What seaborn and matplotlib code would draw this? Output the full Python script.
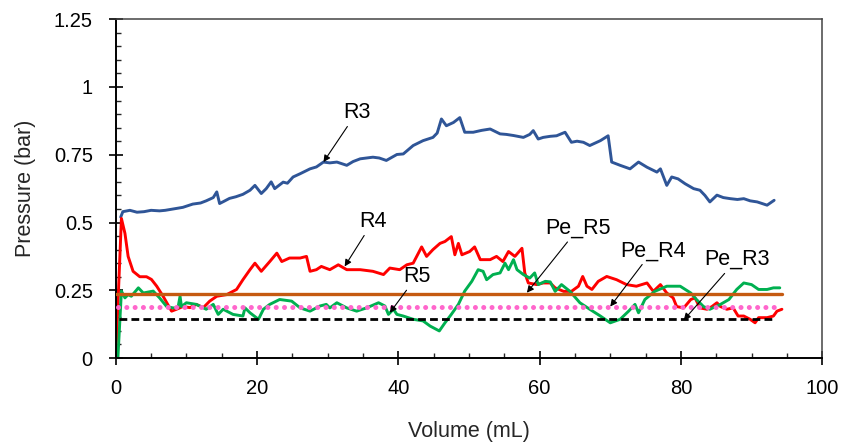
import matplotlib
matplotlib.use("Agg")
import matplotlib.pyplot as plt
import numpy as np
import pandas as pd
import seaborn as sns

# ── data ─────────────────────────────────────────────────────
r3_x = [0.7, 1.0, 2.0, 3.0, 4.0, 5.0, 6.2, 7.0, 8.6, 9.5, 10.9, 12.0, 12.8, 13.8,
        14.3, 14.7, 15.3, 16.1, 17.0, 18.0, 19.0, 19.7, 20.6, 21.3, 22.0, 22.5,
        23.7, 24.3, 25.1, 26.1, 27.5, 28.4, 29.4, 30.3, 31.3, 32.7, 33.6, 34.6,
        35.5, 36.4, 37.3, 38.3, 39.8, 40.7, 42.1, 43.5, 44.9, 45.5, 46.1, 46.8,
        47.8, 48.7, 49.4, 50.6, 51.8, 53.0, 54.4, 55.3, 56.3, 57.7, 58.6, 59.1,
        59.8, 60.5, 61.5, 62.4, 63.6, 64.5, 65.3, 66.2, 67.1, 68.6, 69.7, 70.2,
        71.4, 72.8, 74.0, 75.2, 76.6, 77.1, 78.0, 78.7, 79.6, 80.6, 81.8, 82.7,
        83.4, 84.1, 85.1, 86.0, 87.0, 88.0, 88.9, 89.8, 90.8, 91.5, 92.2, 93.2]
r3_y = [0.52, 0.54, 0.545, 0.538, 0.54, 0.545, 0.543, 0.545, 0.552, 0.556, 0.568,
        0.572, 0.58, 0.592, 0.613, 0.57, 0.578, 0.589, 0.595, 0.604, 0.619, 0.637,
        0.607, 0.625, 0.65, 0.625, 0.649, 0.645, 0.668, 0.68, 0.698, 0.705, 0.723,
        0.72, 0.723, 0.711, 0.725, 0.735, 0.738, 0.741, 0.738, 0.729, 0.751, 0.753,
        0.784, 0.802, 0.814, 0.83, 0.882, 0.857, 0.869, 0.887, 0.833, 0.833, 0.84,
        0.845, 0.827, 0.825, 0.821, 0.814, 0.825, 0.839, 0.808, 0.814, 0.818, 0.82,
        0.833, 0.796, 0.8, 0.796, 0.784, 0.802, 0.82, 0.723, 0.711, 0.698, 0.723,
        0.704, 0.686, 0.698, 0.637, 0.668, 0.661, 0.643, 0.625, 0.619, 0.6, 0.576,
        0.601, 0.592, 0.588, 0.585, 0.588, 0.58, 0.576, 0.57, 0.564, 0.582]

r4_x = [0.0, 0.8, 1.3, 1.75, 2.45, 3.4, 4.35, 5.05, 5.8, 6.7, 7.9, 8.6, 9.5, 10.5,
        11.4, 12.4, 13.3, 14.3, 15.7, 17.1, 18.0, 19.0, 19.7, 20.6, 21.8, 22.8,
        23.5, 24.6, 26.1, 27.0, 27.5, 28.4, 29.1, 30.3, 31.5, 32.7, 34.6, 36.4,
        37.9, 38.8, 40.2, 41.2, 42.1, 42.6, 43.3, 44.0, 44.9, 45.9, 46.6, 47.5,
        48.0, 48.5, 49.0, 50.1, 50.8, 51.6, 53.0, 53.9, 54.8, 55.6, 56.5, 57.5,
        57.9, 58.4, 59.6, 60.5, 61.5, 62.2, 63.4, 64.5, 65.5, 66.1, 66.7, 67.4,
        68.3, 69.5, 70.9, 72.3, 73.7, 75.2, 76.1, 77.1, 78.0, 78.9, 79.4, 80.4,
        81.4, 82.0, 82.7, 83.7, 84.4, 85.1, 85.6, 86.5, 87.4, 88.1, 88.9, 89.8,
        90.5, 91.0, 92.2, 93.1, 93.6, 94.3]
r4_y = [0.0, 0.515, 0.46, 0.375, 0.32, 0.30, 0.30, 0.29, 0.265, 0.228, 0.173, 0.18,
        0.19, 0.186, 0.198, 0.186, 0.21, 0.228, 0.234, 0.253, 0.289, 0.326, 0.35,
        0.32, 0.356, 0.387, 0.356, 0.369, 0.369, 0.375, 0.32, 0.326, 0.338, 0.326,
        0.344, 0.326, 0.326, 0.32, 0.308, 0.332, 0.326, 0.344, 0.35, 0.375, 0.41,
        0.375, 0.40, 0.423, 0.43, 0.448, 0.381, 0.423, 0.381, 0.393, 0.41, 0.363,
        0.363, 0.375, 0.356, 0.393, 0.375, 0.405, 0.314, 0.277, 0.271, 0.277, 0.277,
        0.259, 0.246, 0.246, 0.265, 0.301, 0.265, 0.253, 0.283, 0.301, 0.289, 0.271,
        0.265, 0.277, 0.246, 0.271, 0.24, 0.222, 0.19, 0.185, 0.216, 0.222, 0.185,
        0.18, 0.19, 0.204, 0.19, 0.18, 0.185, 0.155, 0.155, 0.143, 0.13, 0.149,
        0.149, 0.155, 0.173, 0.18]

r5_x = [0.3, 0.8, 1.3, 1.75, 2.2, 3.2, 3.9, 5.3, 6.2, 7.2, 8.1, 8.8, 9.1, 9.3, 10.0,
        11.4, 12.8, 13.8, 14.5, 15.2, 16.6, 18.0, 18.3, 19.0, 20.2, 20.9, 21.8,
        23.2, 24.9, 26.1, 27.5, 28.9, 29.8, 30.3, 31.3, 32.7, 34.1, 35.5, 37.2,
        38.1, 38.6, 39.3, 39.8, 40.7, 42.1, 43.5, 44.5, 45.8, 46.6, 47.5, 48.5,
        49.4, 50.4, 51.3, 52.0, 52.5, 53.4, 54.4, 55.1, 55.6, 56.3, 56.8, 57.7,
        58.6, 59.3, 59.8, 60.8, 61.5, 62.2, 63.1, 64.3, 65.7, 67.1, 68.6, 70.0,
        71.4, 72.6, 73.5, 74.0, 74.9, 76.3, 78.0, 79.9, 81.4, 82.2, 83.2, 84.1,
        85.6, 86.8, 87.9, 88.9, 90.0, 91.0, 92.2, 93.1, 94.0]
r5_y = [0.0, 0.247, 0.222, 0.234, 0.228, 0.259, 0.24, 0.247, 0.222, 0.19, 0.185,
        0.185, 0.228, 0.19, 0.204, 0.198, 0.18, 0.198, 0.161, 0.18, 0.161, 0.155,
        0.185, 0.167, 0.143, 0.18, 0.198, 0.216, 0.21, 0.185, 0.173, 0.192, 0.198,
        0.185, 0.204, 0.185, 0.173, 0.185, 0.204, 0.192, 0.161, 0.18, 0.161, 0.155,
        0.143, 0.137, 0.118, 0.10, 0.13, 0.161, 0.198, 0.247, 0.283, 0.326, 0.32,
        0.289, 0.308, 0.314, 0.35, 0.326, 0.363, 0.326, 0.308, 0.295, 0.314, 0.271,
        0.283, 0.281, 0.246, 0.271, 0.246, 0.204, 0.18, 0.155, 0.13, 0.143, 0.173,
        0.198, 0.167, 0.216, 0.246, 0.265, 0.265, 0.24, 0.216, 0.19, 0.18, 0.198,
        0.216, 0.253, 0.277, 0.271, 0.253, 0.253, 0.259, 0.259]

# permissible pressure levels (horizontal reference lines)
pe_names = ["Pe_R5", "Pe_R4", "Pe_R3"]
pe_level = [0.237, 0.19, 0.145]
pe_start = [0.0, 0.3, 0.5]
pe_end = [94.3, 93.3, 93.0]

# annotation labels: (text, text x, text y, arrow x, arrow y)
labels = ["R3", "R4", "R5", "Pe_R5", "Pe_R4", "Pe_R3"]
label_x = [34.1, 36.4, 42.6, 65.5, 76.0, 87.9]
label_y = [0.905, 0.503, 0.301, 0.479, 0.396, 0.363]
target_x = [29.4, 32.4, 38.8, 58.2, 70.0, 80.4]
target_y = [0.723, 0.338, 0.167, 0.241, 0.19, 0.14]

x_ticks = [0, 20, 40, 60, 80, 100]
y_ticks = [0, 0.25, 0.5, 0.75, 1.0, 1.25]
y_ticklabels = ["0", "0.25", "0.5", "0.75", "1", "1.25"]

# ─────────────────────────────────────────────────────────────

sns.set_style("ticks")
plt.rcParams["font.family"] = ["Liberation Sans", "DejaVu Sans"]

df = pd.concat([
    pd.DataFrame({"volume": r3_x, "pressure": r3_y, "run": "R3"}),
    pd.DataFrame({"volume": r4_x, "pressure": r4_y, "run": "R4"}),
    pd.DataFrame({"volume": r5_x, "pressure": r5_y, "run": "R5"}),
], ignore_index=True)

palette = {"R3": "#2F5597", "R4": "#FF0000", "R5": "#00B050"}

fig, ax = plt.subplots(figsize=(8.45, 4.47), dpi=100)
fig.subplots_adjust(left=0.137, right=0.973, top=0.957, bottom=0.199)

sns.lineplot(data=df, x="volume", y="pressure", hue="run", palette=palette,
             estimator=None, sort=False, lw=2.1, legend=False, ax=ax)

pe_styles = [
    dict(color="#C55A11", lw=2.4, ls="-"),
    dict(color="#FF66CC", lw=3.6, ls=(0, (0.01, 1.65)), solid_capstyle="round",
         dash_capstyle="round"),
    dict(color="black", lw=2.0, ls=(0, (2.8, 1.5))),
]
for lvl, x0, x1, st in zip(pe_level, pe_start, pe_end, pe_styles):
    ax.plot([x0, x1], [lvl, lvl], zorder=3, **st)

for txt, tx, ty, px, py in zip(labels, label_x, label_y, target_x, target_y):
    ax.annotate(txt, xy=(px, py), xytext=(tx, ty), ha="center", va="center",
                fontsize=15.5, color="black", zorder=5,
                arrowprops=dict(arrowstyle="-|>", color="black", lw=0.8,
                                mutation_scale=10, shrinkA=0, shrinkB=0))

ax.set_xlim(0, 100)
ax.set_ylim(0, 1.25)
ax.set_xticks(x_ticks)
ax.set_yticks(y_ticks)
ax.set_yticklabels(y_ticklabels)
ax.set_xticks(np.arange(0, 101, 5), minor=True)
ax.set_yticks(np.arange(0, 1.26, 0.05), minor=True)

ax.tick_params(which="major", direction="inout", length=10, width=1.2,
               labelsize=14.5, colors="black")
ax.tick_params(axis="x", which="major", pad=10)
ax.tick_params(axis="y", which="major", pad=11.5)
ax.tick_params(which="minor", direction="in", length=3.5, width=1.0)

ax.set_xlabel("Volume (mL)", fontsize=15.5, labelpad=17)
ax.set_ylabel("Pressure (bar)", fontsize=15.5, labelpad=13)

for side in ["left", "bottom"]:
    ax.spines[side].set_color("black")
    ax.spines[side].set_linewidth(1.4)
for side in ["top", "right"]:
    ax.spines[side].set_visible(True)
    ax.spines[side].set_color("#444444")
    ax.spines[side].set_linewidth(1.1)

fig.savefig("out.png", dpi=100)
